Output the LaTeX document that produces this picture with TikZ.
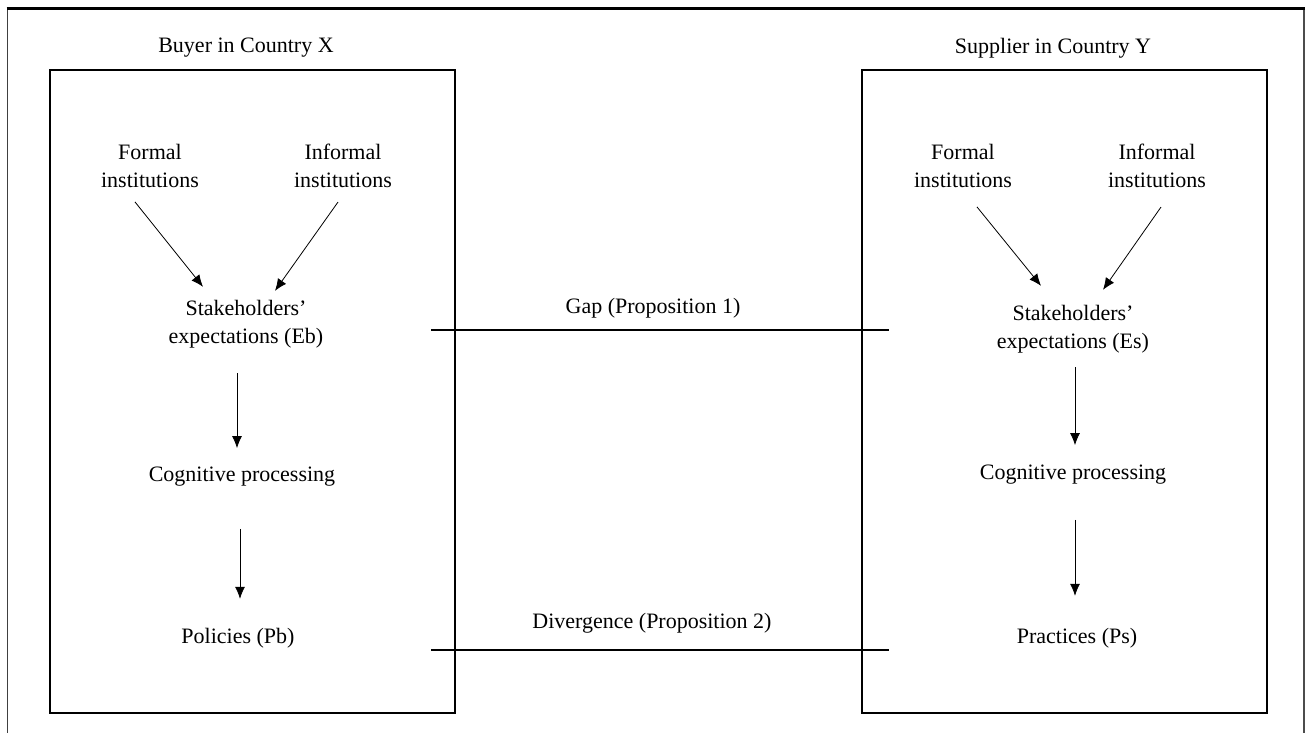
\documentclass[tikz,border=0pt]{standalone}
\usepackage{fontspec}
\setmainfont{Liberation Serif}
\usetikzlibrary{arrows.meta}

\tikzset{
  lbl/.style={inner sep=0pt, align=center, font=\fontsize{22}{28}\selectfont},
  box/.style={draw, line width=2pt, minimum width=405pt, minimum height=643pt, inner sep=0pt},
  arr/.style={line width=0.8pt, -{Latex[length=12pt,width=10pt]}},
  link/.style={line width=2pt},
}

\begin{document}
\begin{tikzpicture}[x=1pt,y=-1pt]
            \useasboundingbox (0,0) rectangle (1306,733);
            \draw[line width=1.2pt, black!75] (7.5,740) -- (7.5,8);
            \draw[line width=1.4pt, black!70] (1303.8,8) -- (1303.8,740);
            \draw[line width=3pt] (6.5,8.5) -- (1304.5,8.5);

            \node[box] (boxB) at (252.5,391.5) {};
            \node[box] (boxS) at (1064.5,391.5) {};

            \node[lbl] (buyer) at (246,48) {Buyer in Country X};
            \node[lbl] (supplier) at (1053,48) {Supplier in Country Y};

            \node[lbl] (fB) at (150,166) {Formal\\institutions};
            \node[lbl] (iB) at (343,166) {Informal\\institutions};
            \node[lbl] (seB) at (246,324) {Stakeholders’\\expectations (Eb)};
            \node[lbl] (cpB) at (242,477) {Cognitive processing};
            \node[lbl] (pB) at (238,638) {Policies (Pb)};

            \node[lbl] (fS) at (963,166) {Formal\\institutions};
            \node[lbl] (iS) at (1157,166) {Informal\\institutions};
            \node[lbl] (seS) at (1073,329) {Stakeholders’\\expectations (Es)};
            \node[lbl] (cpS) at (1073,475) {Cognitive processing};
            \node[lbl] (pS) at (1077,638) {Practices (Ps)};

            \draw[arr] ([xshift=-15pt,yshift=-14pt]fB.south) -- ([xshift=-43pt,yshift=13pt]seB.north);
            \draw[arr] ([xshift=-5pt,yshift=-14pt]iB.south) -- ([xshift=29pt,yshift=9pt]seB.north);
            \draw[arr] ([xshift=-9pt,yshift=-25pt]seB.south) -- ([xshift=-5pt,yshift=19pt]cpB.north);
            \draw[arr] ([xshift=-2pt,yshift=-42pt]cpB.south) -- ([xshift=2pt,yshift=29pt]pB.north);

            \draw[arr] ([xshift=14pt,yshift=-19pt]fS.south) -- ([xshift=-32pt,yshift=19pt]seS.north);
            \draw[arr] ([xshift=4pt,yshift=-19pt]iS.south) -- ([xshift=30pt,yshift=15pt]seS.north);
            \draw[arr] ([xshift=2pt,yshift=-14pt]seS.south) -- ([xshift=2pt,yshift=20pt]cpS.north);
            \draw[arr] ([xshift=2pt,yshift=-35pt]cpS.south) -- ([xshift=-2pt,yshift=32pt]pS.north);

            \coordinate (gapB) at (431,330);
            \coordinate (gapS) at (889,330);
            \draw[link] (gapB) -- (gapS);
            \node[lbl] (gap) at (653,308) {Gap (Proposition 1)};

            \coordinate (divB) at (431,650);
            \coordinate (divS) at (889,650);
            \draw[link] (divB) -- (divS);
            \node[lbl] (div) at (652,623) {Divergence (Proposition 2)};
\end{tikzpicture}
\end{document}
